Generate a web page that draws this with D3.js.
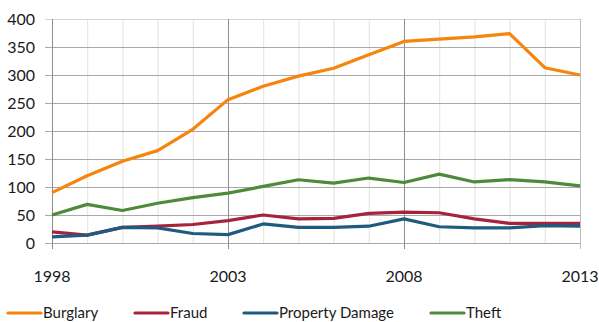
<!DOCTYPE html>
<html>
<head>
<meta charset="utf-8">
<script src="https://cdn.jsdelivr.net/npm/d3@7"></script>
<style>
  html, body { margin: 0; padding: 0; background: #fff; }
  svg { display: block; }
  text { font-family: Lato, "Open Sans", sans-serif; fill: #1a1a1a; }
</style>
</head>
<body>
<svg id="chart" width="599" height="322"></svg>
<script>
// Reported offences per year, 1998–2013
const years = d3.range(1998, 2014);
const burglary       = [90, 120, 146, 165, 203, 256, 280, 298, 312, 336, 360, 364, 368, 374, 313, 300];
const fraud          = [20, 14, 28, 30, 33, 40, 50, 43, 44, 53, 55, 54, 43, 35, 35, 35];
const propertyDamage = [11, 14, 28, 27, 17, 15, 34, 28, 28, 30, 43, 29, 27, 27, 31, 30];
const theft          = [50, 69, 58, 71, 81, 89, 101, 113, 107, 116, 108, 123, 109, 113, 109, 102];

const seriesNames  = ["Burglary", "Fraud", "Property Damage", "Theft"];
const seriesValues = [burglary, fraud, propertyDamage, theft];
const seriesColors = ["#f5850c", "#a6243b", "#1e5b7f", "#4f8a3b"];

const yTicks = d3.range(0, 401, 50);
const xLabelYears = [1998, 2003, 2008, 2013];

const svg = d3.select("#chart");
const margin = { left: 52, right: 19, top: 19, bottom: 79 };
const W = 599, H = 322;

const x = d3.scaleLinear().domain([1998, 2013]).range([margin.left, W - margin.right]);
const y = d3.scaleLinear().domain([0, 400]).range([H - margin.bottom, margin.top]);

const grid = svg.append("g");

// yearly vertical gridlines (light), with darker lines at labelled years
grid.selectAll("line.vminor")
  .data(years.filter(d => !xLabelYears.includes(d)))
  .join("line")
  .attr("x1", d => x(d) + 0.5).attr("x2", d => x(d) + 0.5)
  .attr("y1", y(400)).attr("y2", y(0))
  .attr("stroke", "#e6e1d9").attr("stroke-width", 1);

// horizontal gridlines
grid.selectAll("line.h")
  .data(yTicks)
  .join("line")
  .attr("x1", x(1998) - 7).attr("x2", x(2013))
  .attr("y1", d => Math.round(y(d)) + 0.5).attr("y2", d => Math.round(y(d)) + 0.5)
  .attr("stroke", d => d === 400 ? "#d4d4d4" : "#a9a9a9").attr("stroke-width", 1);

grid.selectAll("line.vmajor")
  .data(xLabelYears)
  .join("line")
  .attr("x1", d => Math.round(x(d)) + 0.5).attr("x2", d => Math.round(x(d)) + 0.5)
  .attr("y1", y(400)).attr("y2", y(0) + 6)
  .attr("stroke", d => d === 2013 ? "#bdbdbd" : "#8e8e8e").attr("stroke-width", 1);

// y axis labels
svg.append("g").selectAll("text")
  .data(yTicks)
  .join("text")
  .attr("x", 35)
  .attr("y", d => y(d))
  .attr("dy", "0.35em")
  .attr("text-anchor", "end")
  .attr("font-size", 16)
  .text(d => d);

// x axis labels
svg.append("g").selectAll("text")
  .data(xLabelYears)
  .join("text")
  .attr("x", d => x(d))
  .attr("y", 282)
  .attr("text-anchor", "middle")
  .attr("font-size", 16)
  .text(d => d);

// series lines
const line = d3.line().x((d, i) => x(years[i])).y(d => y(d));
svg.append("g").selectAll("path")
  .data(seriesValues)
  .join("path")
  .attr("d", d => line(d))
  .attr("fill", "none")
  .attr("stroke", (d, i) => seriesColors[i])
  .attr("stroke-width", 3.2)
  .attr("stroke-linejoin", "round");

// legend
const legendX = [8, 135, 244, 431];
const legend = svg.append("g").selectAll("g")
  .data(seriesNames)
  .join("g")
  .attr("transform", (d, i) => `translate(${legendX[i]},313)`);
legend.append("line")
  .attr("x1", 0).attr("x2", 33).attr("y1", 0).attr("y2", 0)
  .attr("stroke", (d, i) => seriesColors[i])
  .attr("stroke-width", 3.2).attr("stroke-linecap", "round");
legend.append("text")
  .attr("x", 35).attr("y", 0).attr("dy", "0.35em")
  .attr("font-size", 15)
  .text(d => d);
</script>
</body>
</html>
